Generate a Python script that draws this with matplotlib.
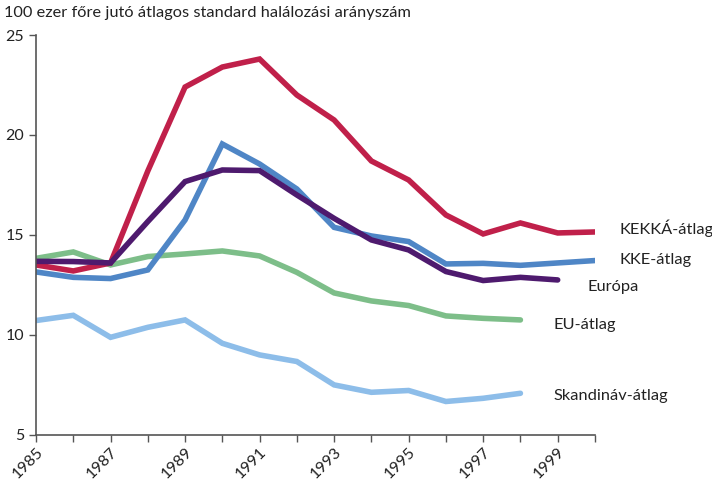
import matplotlib.pyplot as plt

years = list(range(1985, 2001))

kekka = [13.5, 13.2, 13.6, 18.2, 22.4, 23.4, 23.8, 22.0, 20.75, 18.7, 17.75, 16.0, 15.05, 15.6, 15.1, 15.15]
kke = [13.15, 12.88, 12.82, 13.25, 15.75, 19.55, 18.55, 17.3, 15.38, 14.95, 14.67, 13.55, 13.58, 13.48, 13.6, 13.72]
europa = [13.68, 13.67, 13.6, 15.67, 17.67, 18.25, 18.22, 17.0, 15.83, 14.75, 14.25, 13.17, 12.72, 12.88, 12.75]
eu = [13.83, 14.15, 13.5, 13.92, 14.05, 14.2, 13.95, 13.13, 12.1, 11.7, 11.47, 10.95, 10.83, 10.75]
skand = [10.72, 10.98, 9.88, 10.38, 10.75, 9.58, 9.0, 8.67, 7.5, 7.13, 7.22, 6.67, 6.83, 7.08]

series = [
    ("Skandináv-átlag", skand, "#8dbde9", 1998.9, 6.95),
    ("EU-átlag", eu, "#7dbe89", 1998.9, 10.5),
    ("KKE-átlag", kke, "#4f86c6", 2000.65, 13.75),
    ("KEKKÁ-átlag", kekka, "#c0204a", 2000.65, 15.35),
    ("Európa", europa, "#4e1a6e", 1999.8, 12.4),
]

plt.rcParams['font.family'] = ['Lato', 'DejaVu Sans']

fig = plt.figure(figsize=(7.12, 4.8), dpi=100)
ax = fig.add_axes([0.0506, 0.094, 0.785, 0.833])

for name, vals, col, lx, ly in series:
    ax.plot(years[:len(vals)], vals, color=col, lw=4, solid_capstyle='round',
            solid_joinstyle='miter')
    ax.text(lx, ly, name, fontsize=11.8, va='center', ha='left', color='#222222',
            clip_on=False)

ax.set_xlim(1985, 2000)
ax.set_ylim(5, 25)
ax.set_yticks([5, 10, 15, 20, 25])
ax.set_xticks(list(range(1985, 2001)))
ax.set_xticklabels([str(y) if y % 2 == 1 and y < 2000 else "" for y in range(1985, 2001)],
                   rotation=45, ha='right', va='top', rotation_mode='anchor')

for s in ['top', 'right']:
    ax.spines[s].set_visible(False)
for s in ['left', 'bottom']:
    ax.spines[s].set_color('#555555')
    ax.spines[s].set_linewidth(1.2)
ax.tick_params(axis='both', direction='out', length=5, width=1, color='#555555',
               labelsize=11.5, labelcolor='#222222')
ax.tick_params(axis='x', pad=2)

fig.text(0.006, 0.973, "100 ezer főre jutó átlagos standard halálozási arányszám",
         fontsize=11.8, ha='left', va='center', color='#222222')

fig.savefig("out.png", dpi=100)
